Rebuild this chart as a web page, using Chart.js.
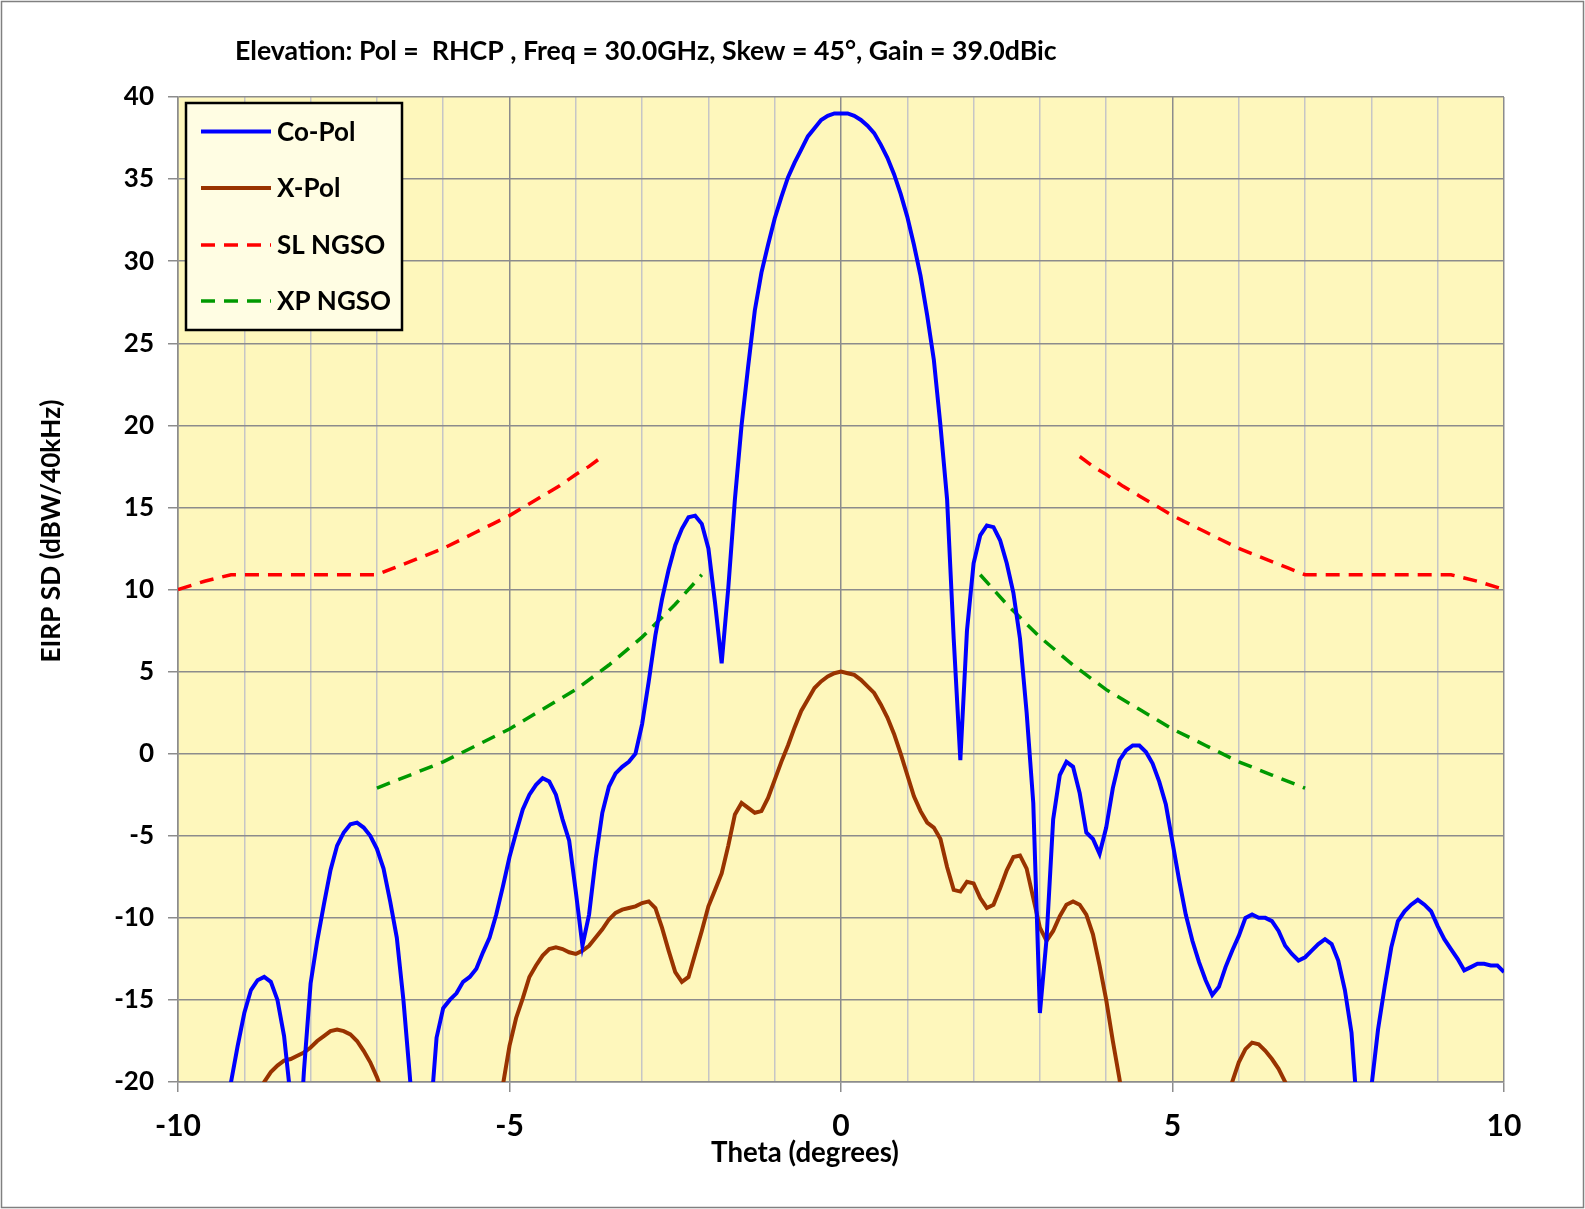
<!DOCTYPE html>
<html><head><meta charset="utf-8">
<script src="https://cdn.jsdelivr.net/npm/chart.js@4.4.0/dist/chart.umd.min.js"></script>
<style>html,body{margin:0;padding:0;background:#fff;overflow:hidden}canvas{display:block}</style>
</head><body>
<canvas id="c" width="1585" height="1209"></canvas>
<script>
// Sampling grid (degrees), 0.1 deg steps from -10 to 10
const theta = [
-10.0,-9.9,-9.8,-9.7,-9.6,-9.5,-9.4,-9.3,-9.2,-9.1,
-9.0,-8.9,-8.8,-8.7,-8.6,-8.5,-8.4,-8.3,-8.2,-8.1,
-8.0,-7.9,-7.8,-7.7,-7.6,-7.5,-7.4,-7.3,-7.2,-7.1,
-7.0,-6.9,-6.8,-6.7,-6.6,-6.5,-6.4,-6.3,-6.2,-6.1,
-6.0,-5.9,-5.8,-5.7,-5.6,-5.5,-5.4,-5.3,-5.2,-5.1,
-5.0,-4.9,-4.8,-4.7,-4.6,-4.5,-4.4,-4.3,-4.2,-4.1,
-4.0,-3.9,-3.8,-3.7,-3.6,-3.5,-3.4,-3.3,-3.2,-3.1,
-3.0,-2.9,-2.8,-2.7,-2.6,-2.5,-2.4,-2.3,-2.2,-2.1,
-2.0,-1.9,-1.8,-1.7,-1.6,-1.5,-1.4,-1.3,-1.2,-1.1,
-1.0,-0.9,-0.8,-0.7,-0.6,-0.5,-0.4,-0.3,-0.2,-0.1,
0.0,0.1,0.2,0.3,0.4,0.5,0.6,0.7,0.8,0.9,
1.0,1.1,1.2,1.3,1.4,1.5,1.6,1.7,1.8,1.9,
2.0,2.1,2.2,2.3,2.4,2.5,2.6,2.7,2.8,2.9,
3.0,3.1,3.2,3.3,3.4,3.5,3.6,3.7,3.8,3.9,
4.0,4.1,4.2,4.3,4.4,4.5,4.6,4.7,4.8,4.9,
5.0,5.1,5.2,5.3,5.4,5.5,5.6,5.7,5.8,5.9,
6.0,6.1,6.2,6.3,6.4,6.5,6.6,6.7,6.8,6.9,
7.0,7.1,7.2,7.3,7.4,7.5,7.6,7.7,7.8,7.9,
8.0,8.1,8.2,8.3,8.4,8.5,8.6,8.7,8.8,8.9,
9.0,9.1,9.2,9.3,9.4,9.5,9.6,9.7,9.8,9.9,
10.0];

// Co-Pol EIRP SD (dBW/40kHz)
const coPol = [
-32,-31,-30,-29,-28,-27,-25.5,-22.8,-20.0,-17.8,
-15.8,-14.4,-13.8,-13.6,-13.9,-15.0,-17.2,-21.0,-26.0,-19.3,
-14.0,-11.4,-9.2,-7.1,-5.6,-4.8,-4.3,-4.2,-4.5,-5.0,
-5.8,-7.0,-9.0,-11.2,-15.0,-19.8,-25,-30,-22.5,-17.3,
-15.5,-15.0,-14.6,-13.9,-13.6,-13.1,-12.1,-11.2,-9.8,-8.1,
-6.3,-4.8,-3.4,-2.5,-1.9,-1.5,-1.7,-2.5,-4.0,-5.3,
-8.4,-11.7,-9.8,-6.4,-3.6,-2.0,-1.2,-0.8,-0.5,0.0,
1.8,4.4,7.2,9.4,11.2,12.7,13.7,14.4,14.5,14.0,
12.5,9.2,5.5,10.1,15.5,20.0,23.6,27.0,29.3,31.0,
32.6,33.9,35.1,36.0,36.8,37.6,38.1,38.6,38.85,39.0,
39.0,39.0,38.85,38.6,38.25,37.8,37.1,36.3,35.3,34.1,
32.7,31.0,29.1,26.7,24.0,20.0,15.5,7.0,-0.4,7.5,
11.6,13.3,13.9,13.8,13.0,11.6,9.8,7.0,2.5,-3.0,
-15.8,-11.3,-4.0,-1.3,-0.5,-0.8,-2.4,-4.8,-5.2,-6.1,
-4.5,-2.1,-0.4,0.2,0.5,0.5,0.1,-0.6,-1.7,-3.1,
-5.4,-7.7,-9.8,-11.4,-12.7,-13.8,-14.7,-14.2,-13.0,-12.0,
-11.1,-10.0,-9.8,-10.0,-10.0,-10.2,-10.8,-11.7,-12.2,-12.6,
-12.4,-12.0,-11.6,-11.3,-11.6,-12.6,-14.4,-17.0,-22.5,-28,
-20.3,-16.8,-14.2,-11.8,-10.2,-9.6,-9.2,-8.9,-9.2,-9.6,
-10.5,-11.3,-11.9,-12.5,-13.2,-13.0,-12.8,-12.8,-12.9,-12.9,
-13.3];

// X-Pol EIRP SD (dBW/40kHz)
const xPol = [
-35,-34,-33,-32,-31,-30,-29,-28,-27,-25,
-23.5,-21.8,-20.8,-20.0,-19.4,-19.0,-18.7,-18.6,-18.4,-18.2,
-17.9,-17.5,-17.2,-16.9,-16.8,-16.9,-17.1,-17.5,-18.1,-18.8,
-19.7,-20.8,-22,-23.5,-25,-26.5,-28,-29,-30,-31,
-31.5,-31.5,-31,-30,-29,-28,-27,-25.5,-22.6,-20.2,
-17.8,-16.1,-14.9,-13.6,-12.9,-12.3,-11.9,-11.8,-11.9,-12.1,
-12.2,-12.0,-11.7,-11.2,-10.7,-10.1,-9.7,-9.5,-9.4,-9.3,
-9.1,-9.0,-9.4,-10.6,-12.0,-13.3,-13.9,-13.6,-12.2,-10.8,
-9.3,-8.3,-7.3,-5.6,-3.7,-3.0,-3.3,-3.6,-3.5,-2.7,
-1.6,-0.5,0.5,1.6,2.6,3.3,4.0,4.4,4.7,4.9,
5.0,4.9,4.8,4.5,4.1,3.7,3.0,2.2,1.2,0.0,
-1.3,-2.6,-3.5,-4.2,-4.5,-5.2,-6.9,-8.3,-8.4,-7.8,
-7.9,-8.8,-9.4,-9.2,-8.2,-7.1,-6.3,-6.2,-7.0,-8.8,
-10.6,-11.4,-10.8,-9.9,-9.2,-9.0,-9.2,-9.8,-11.0,-12.9,
-15.0,-17.5,-19.8,-22.5,-25,-27,-28.5,-29.5,-30,-30.5,
-31,-31,-30.5,-30,-29,-28,-27,-25.5,-21.5,-20.0,
-18.8,-18.0,-17.6,-17.7,-18.1,-18.6,-19.2,-20.0,-21.0,-22.5,
-24,-25.5,-27,-28,-29,-30,-31,-32,-33,-34,
-35,-35,-35,-35,-35,-35,-35,-35,-35,-35,
-35,-35,-35,-35,-35,-35,-35,-35,-35,-35,
-35];

// SL NGSO mask (red dashed); null splits left/right branches
const slTheta  = [-10,-9.6,-9.2,-8,-7,-6.75,-6.5,-6.25,-6,-5.75,-5.5,-5.25,-5,-4.75,-4.5,-4.25,-4,-3.8,-3.6, 0, 3.6,3.8,4,4.25,4.5,4.75,5,5.25,5.5,5.75,6,6.25,6.5,6.75,7,8,9.2,9.6,10];
const slValues = [10.0,10.5,10.9,10.9,10.9,11.3,11.7,12.1,12.5,13.0,13.5,14.0,14.5,15.1,15.7,16.3,17.0,17.5,18.1, null, 18.1,17.5,17.0,16.3,15.7,15.1,14.5,14.0,13.5,13.0,12.5,12.1,11.7,11.3,10.9,10.9,10.9,10.5,10.0];

// XP NGSO mask (green dashed)
const xpTheta  = [-7,-6.5,-6,-5.5,-5,-4.5,-4,-3.5,-3,-2.5,-2.1, 0, 2.1,2.5,3,3.5,4,4.5,5,5.5,6,6.5,7];
const xpValues = [-2.1,-1.3,-0.5,0.5,1.5,2.7,3.9,5.4,7.1,9.1,10.9, null, 10.9,9.1,7.1,5.4,3.9,2.7,1.5,0.5,-0.5,-1.3,-2.1];

const seriesNames = ['Co-Pol','X-Pol','SL NGSO','XP NGSO'];
const yTicks = {min:-20, max:40, step:5};
const xTicks = {min:-10, max:10, step:1, labelEvery:5};

const titleText = 'Elevation: Pol =  RHCP , Freq = 30.0GHz, Skew = 45°, Gain = 39.0dBic';
const xTitle = 'Theta (degrees)';
const yTitle = 'EIRP SD (dBW/40kHz)';

const FONT = 'Lato';
const pts = (xs, ys) => xs.map((x,i)=>({x:x, y:ys[i]}));

function fitFont(ctx, text, target, base){
  ctx.font = 'bold ' + base + 'px ' + FONT;
  const w = ctx.measureText(text).width;
  return base * target / w;
}

const decor = {
  id:'decor',
  beforeDraw(chart){
    const {ctx, chartArea:a, width, height} = chart;
    ctx.save();
    ctx.fillStyle = '#ffffff';
    ctx.fillRect(0,0,width,height);
    ctx.fillStyle = '#FEF7BC';
    ctx.fillRect(a.left, a.top, a.right-a.left, a.bottom-a.top);
    ctx.strokeStyle = '#808080';
    ctx.lineWidth = 1.5;
    ctx.strokeRect(1.5,1.5,width-3,height-3);
    ctx.restore();
  },
  afterDraw(chart){
    const {ctx} = chart;
    ctx.save();
    ctx.fillStyle = '#000';
    // title
    let fs = fitFont(ctx, titleText, 822, 24);
    ctx.font = 'bold ' + fs.toFixed(2) + 'px ' + FONT;
    ctx.textAlign = 'left'; ctx.textBaseline = 'middle';
    ctx.fillText(titleText, 235, 51);
    // x title
    fs = fitFont(ctx, xTitle, 188, 24);
    ctx.font = 'bold ' + fs.toFixed(2) + 'px ' + FONT;
    ctx.textAlign = 'center';
    ctx.fillText(xTitle, 805, 1153);
    // y title
    fs = fitFont(ctx, yTitle, 263, 24);
    ctx.font = 'bold ' + fs.toFixed(2) + 'px ' + FONT;
    ctx.translate(52, 531);
    ctx.rotate(-Math.PI/2);
    ctx.fillText(yTitle, 0, 0);
    ctx.restore();

    // legend
    ctx.save();
    const bx=186, by=103, bw=216, bh=227;
    ctx.fillStyle = '#FFFDE3';
    ctx.fillRect(bx,by,bw,bh);
    ctx.strokeStyle = '#000'; ctx.lineWidth = 2.5;
    ctx.strokeRect(bx,by,bw,bh);
    const rows = [131.5,188,245,301];
    chart.data.datasets.forEach((ds,i)=>{
      const y = rows[i];
      ctx.beginPath();
      ctx.strokeStyle = ds.borderColor;
      ctx.lineWidth = ds.borderWidth;
      ctx.setLineDash(ds.borderDash || []);
      ctx.moveTo(201,y); ctx.lineTo(271,y);
      ctx.stroke();
      ctx.setLineDash([]);
      ctx.fillStyle = '#000';
      ctx.font = 'bold 26px ' + FONT;
      ctx.textAlign = 'left'; ctx.textBaseline = 'middle';
      ctx.fillText(ds.label, 277, y+1);
    });
    ctx.restore();
  }
};

new Chart(document.getElementById('c'), {
  type:'line',
  data:{datasets:[
    {label:seriesNames[0], data:pts(theta,coPol), borderColor:'#0000FF', borderWidth:4, pointRadius:0, tension:0, clip:0},
    {label:seriesNames[1], data:pts(theta,xPol), borderColor:'#993300', borderWidth:4, pointRadius:0, tension:0, clip:0},
    {label:seriesNames[2], data:pts(slTheta,slValues), borderColor:'#FF0000', borderWidth:3.5, borderDash:[14,9], pointRadius:0, tension:0, spanGaps:false, clip:0},
    {label:seriesNames[3], data:pts(xpTheta,xpValues), borderColor:'#009900', borderWidth:3.5, borderDash:[14,9], pointRadius:0, tension:0, spanGaps:false, clip:0}
  ]},
  options:{
    responsive:false, animation:false, devicePixelRatio:1,
    layout:{padding:{left:0, right:81, top:97, bottom:0}},
    plugins:{legend:{display:false}, title:{display:false}, tooltip:{enabled:false}},
    scales:{
      x:{type:'linear', min:xTicks.min, max:xTicks.max,
        ticks:{stepSize:xTicks.step, autoSkip:false, maxRotation:0, color:'#000', padding:16,
          font:{family:FONT, weight:'bold', size:30},
          callback:(v)=> (Math.round(v) % xTicks.labelEvery === 0) ? String(v) : ''},
        grid:{lineWidth:1.5, tickLength:10,
          color:(c)=> (c.tick && Math.round(c.tick.value)%5===0) ? '#8c8c8c' : '#c6c6c6',
          tickColor:(c)=> (c.tick && Math.round(c.tick.value)%5===0) ? '#8c8c8c' : 'rgba(0,0,0,0)'},
        border:{color:'#8c8c8c', width:1.5},
        afterFit:(s)=>{ s.height = 127; }
      },
      y:{type:'linear', min:yTicks.min, max:yTicks.max,
        ticks:{stepSize:yTicks.step, color:'#000', padding:14, font:{family:FONT, weight:'bold', size:26}},
        grid:{lineWidth:1.5, tickLength:10, color:'#8c8c8c', tickColor:'#8c8c8c'},
        border:{color:'#8c8c8c', width:1.5},
        afterFit:(s)=>{ s.width = 178; }
      }
    }
  },
  plugins:[decor]
});
</script>
</body></html>
